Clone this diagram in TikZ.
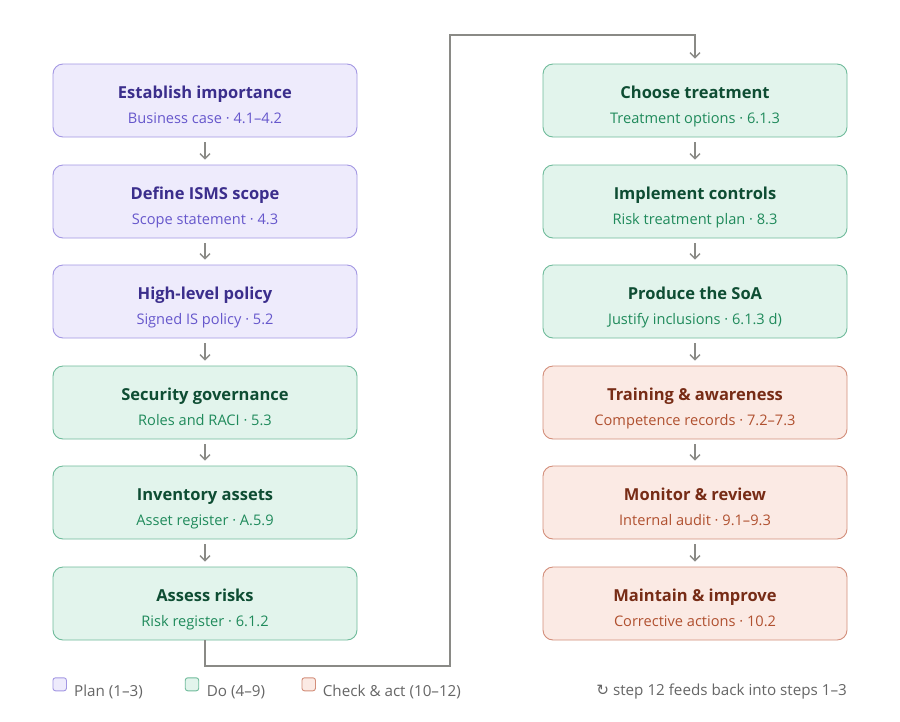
\documentclass[tikz,border=0pt]{standalone}
\usepackage{fontspec}
\setmainfont{Open Sans}
\newfontfamily\symfont{DejaVu Sans}
\usetikzlibrary{arrows.meta}
\definecolor{planfill}{HTML}{EEEBFC}
\definecolor{plandraw}{HTML}{A397E3}
\definecolor{plantitle}{HTML}{3B2E8C}
\definecolor{plansub}{HTML}{6657CC}
\definecolor{dofill}{HTML}{E2F4EC}
\definecolor{dodraw}{HTML}{6FBB9B}
\definecolor{dotitle}{HTML}{0E4D33}
\definecolor{dosub}{HTML}{1F8A5B}
\definecolor{ckfill}{HTML}{FBEAE4}
\definecolor{ckdraw}{HTML}{D38E7A}
\definecolor{cktitle}{HTML}{772C16}
\definecolor{cksub}{HTML}{B0502F}
\definecolor{linecol}{HTML}{8A8A86}
\definecolor{legtext}{HTML}{666666}
\tikzset{
  box/.style={rounded corners=10pt, line width=0.9pt, minimum width=304pt, minimum height=73pt, inner sep=0pt},
  plan/.style={box, fill=planfill, draw=plandraw},
  doo/.style={box, fill=dofill, draw=dodraw},
  ck/.style={box, fill=ckfill, draw=ckdraw},
  ttl/.style={font=\bfseries\fontsize{16.5}{20}\selectfont, anchor=base, inner sep=0pt},
  sub/.style={font=\fontsize{14.6}{17}\selectfont, anchor=base, inner sep=0pt},
  flow/.style={draw=linecol, line width=1.3pt, -{Straight Barb[length=5pt,width=10pt,line width=1.3pt]}},
  legbox/.style={rounded corners=2.5pt, line width=0.9pt, minimum width=13.5pt, minimum height=13pt, inner sep=0pt},
  legtxt/.style={font=\fontsize{15.2}{18}\selectfont, text=legtext, anchor=base west, inner sep=0pt},
}
\newcommand{\stepnode}[7]{%
  \node[#2] (#1) at (#3,#4) {};
  \node[ttl, text=#5title] at (#3,#4-2.2) {#6};
  \node[sub, text=#5sub] at (#3,#4+22.5) {#7};
}
\begin{document}
\begin{tikzpicture}[x=1pt,y=-1pt]
\useasboundingbox (0,0) rectangle (900,721);
\fill[white] (0,0) rectangle (900,721);
\stepnode{s1}{plan}{205}{100.5}{plan}{Establish importance}{Business case · 4.1–4.2}
\stepnode{s2}{plan}{205}{201.5}{plan}{Define ISMS scope}{Scope statement · 4.3}
\stepnode{s3}{plan}{205}{301.5}{plan}{High-level policy}{Signed IS policy · 5.2}
\stepnode{s4}{doo}{205}{402.5}{do}{Security governance}{Roles and RACI · 5.3}
\stepnode{s5}{doo}{205}{502.5}{do}{Inventory assets}{Asset register · A.5.9}
\stepnode{s6}{doo}{205}{603.5}{do}{Assess risks}{Risk register · 6.1.2}
\stepnode{s7}{doo}{695}{100.5}{do}{Choose treatment}{Treatment options · 6.1.3}
\stepnode{s8}{doo}{695}{201.5}{do}{Implement controls}{Risk treatment plan · 8.3}
\stepnode{s9}{doo}{695}{301.5}{do}{Produce the SoA}{Justify inclusions · 6.1.3 d)}
\stepnode{s10}{ck}{695}{402.5}{ck}{Training \& awareness}{Competence records · 7.2–7.3}
\stepnode{s11}{ck}{695}{502.5}{ck}{Monitor \& review}{Internal audit · 9.1–9.3}
\stepnode{s12}{ck}{695}{603.5}{ck}{Maintain \& improve}{Corrective actions · 10.2}
\foreach \a/\b in {s1/s2,s2/s3,s3/s4,s4/s5,s5/s6,s7/s8,s8/s9,s9/s10,s10/s11,s11/s12}{
  \draw[flow] ([yshift=-5pt]\a.south) -- ([yshift=5pt]\b.north);
}
\coordinate (c1) at (205,666);
\coordinate (c2) at (450,666);
\coordinate (c3) at (450,35);
\coordinate (c4) at (695,35);
\draw[flow] (s6.south) -- (c1) -- (c2) -- (c3) -- (c4) -- ([yshift=5pt]s7.north);
% legend
\node[legbox, fill=planfill, draw=plandraw] (lp) at (59.7,684.3) {};
\node[legtxt] (lpt) at (74,696) {Plan (1–3)};
\node[legbox, fill=dofill, draw=dodraw] (ld) at (192,684.3) {};
\node[legtxt] (ldt) at (206.7,696) {Do (4–9)};
\node[legbox, fill=ckfill, draw=ckdraw] (lc) at (308.7,684.3) {};
\node[legtxt] (lct) at (322.7,696) {Check \& act (10–12)};
\node[legtxt, anchor=base east] (fb) at (847,695) {{\symfont ↻} step 12 feeds back into steps 1–3};
\end{tikzpicture}
\end{document}
